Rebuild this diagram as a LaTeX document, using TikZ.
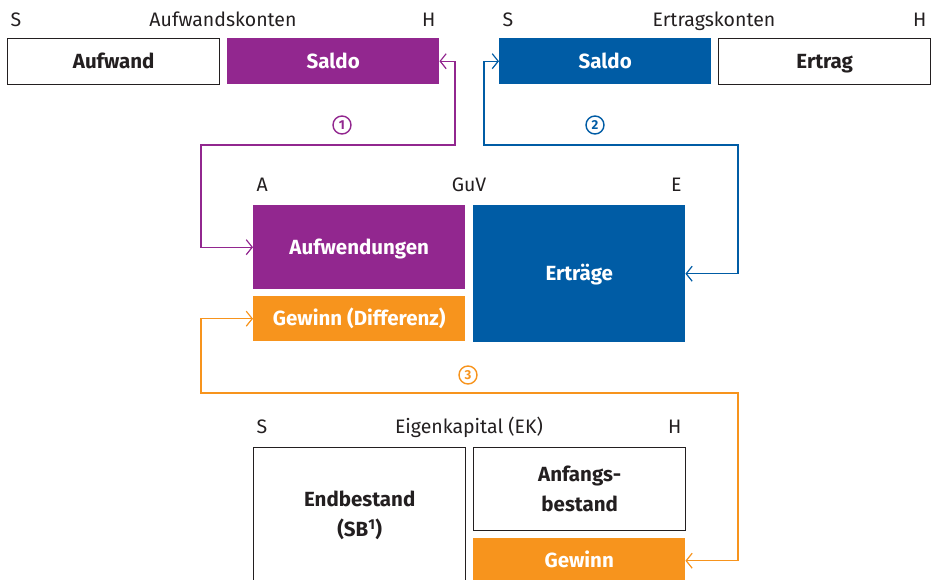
\documentclass[tikz,border=0pt]{standalone}
\usepackage{fontspec}
\setmainfont{Fira Sans}
\usepackage{xcolor}
\usetikzlibrary{arrows.meta}
\definecolor{aufwlila}{HTML}{92278F}
\definecolor{ertragblau}{HTML}{005CA5}
\definecolor{gewinnorange}{HTML}{F7941D}
\definecolor{textgrau}{HTML}{231F20}

\begin{document}
\begin{tikzpicture}[x=1pt,y=-1pt,
  feld/.style={anchor=north west,minimum width=212pt,inner sep=0pt,align=center,
    text=white,font=\bfseries\fontsize{20.5}{30}\selectfont},
  konto/.style={feld,text height=16pt,text depth=2pt},
  leer/.style={konto,draw=textgrau,line width=1.4pt,text=textgrau},
  leerfeld/.style={feld,draw=textgrau,line width=1.4pt,text=textgrau},
  kopf/.style={text=textgrau,font=\fontsize{19.5}{22}\selectfont},
  pfeil/.style={line width=1.2pt,{Straight Barb[length=6pt,width=15pt]}-{Straight Barb[length=6pt,width=15pt]}},
  nummer/.style={circle,draw,line width=1.4pt,inner sep=0pt,minimum size=18pt,font=\bfseries\fontsize{13}{13}\selectfont}]
\useasboundingbox (0,0) rectangle (935,580);
\clip (0,0) rectangle (935,580);
% Aufwandskonten
\node[kopf,anchor=base west] (sA) at (7,27) {S};
\node[kopf,anchor=base] (tA) at (223,27) {Aufwandskonten};
\node[kopf,anchor=base east] (hA) at (439,27) {H};
\node[leer,minimum height=46pt] (aufwand) at (7,38) {Aufwand};
\node[konto,fill=aufwlila,minimum height=46pt] (saldoA) at (227,38) {Saldo};
% Ertragskonten
\node[kopf,anchor=base west] (sE) at (499,27) {S};
\node[kopf,anchor=base] (tE) at (714,27) {Ertragskonten};
\node[kopf,anchor=base east] (hE) at (930,27) {H};
\node[konto,fill=ertragblau,minimum height=46pt] (saldoE) at (499,38) {Saldo};
\node[leer,minimum height=46pt] (ertrag) at (718,38) {Ertrag};
% GuV
\node[kopf,anchor=base west] (aG) at (253,192) {A};
\node[kopf,anchor=base] (tG) at (469,192) {GuV};
\node[kopf,anchor=base east] (eG) at (685,192) {E};
\node[konto,fill=aufwlila,minimum height=84pt] (aufwendungen) at (253,205) {Aufwendungen};
\node[konto,fill=gewinnorange,minimum height=45pt] (gewinnD) at (253,296) {Gewinn (Differenz)};
\node[konto,fill=ertragblau,minimum height=137pt] (ertraege) at (473,205) {Erträge};
% Eigenkapital
\node[kopf,anchor=base west] (sK) at (253,433) {S};
\node[kopf,anchor=base] (tK) at (469,433) {Eigenkapital (EK)};
\node[kopf,anchor=base east] (hK) at (685,433) {H};
\node[leerfeld,minimum height=136pt] (endbestand) at (253,447) {Endbestand\\(SB\textsuperscript{1})};
\node[leerfeld,minimum height=83pt] (anfang) at (473,447) {Anfangs-\\bestand};
\node[konto,fill=gewinnorange,minimum height=45pt] (gewinn) at (473,538) {Gewinn};
% Verbindungen
\coordinate (k1a) at (201,145);
\coordinate (k1b) at (455,145);
\draw[pfeil,aufwlila] (aufwendungen.west) -| (k1a) -- (k1b) |- (saldoA.east);
\node[nummer,aufwlila] (n1) at (342,125) {1};
\coordinate (k2a) at (484,145);
\coordinate (k2b) at (738,145);
\draw[pfeil,ertragblau] (saldoE.west) -| (k2a) -- (k2b) |- (ertraege.east);
\node[nummer,ertragblau] (n2) at (595,125) {2};
\coordinate (k3a) at (201,393);
\coordinate (k3b) at (738,393);
\draw[pfeil,gewinnorange] (gewinnD.west) -| (k3a) -- (k3b) |- (gewinn.east);
\node[nummer,gewinnorange] (n3) at (468,375) {3};
\end{tikzpicture}
\end{document}
